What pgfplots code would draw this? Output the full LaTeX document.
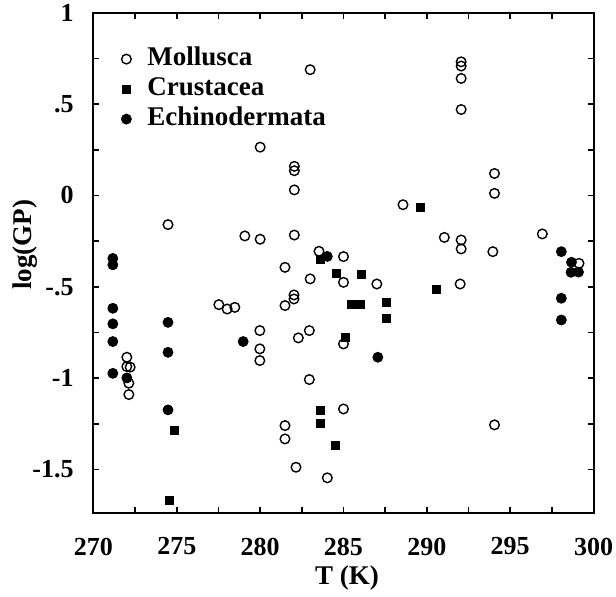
\documentclass[border=0pt]{standalone}
\usepackage{fontspec}
\setmainfont{Liberation Serif}
\usepackage{pgfplots}
\pgfplotsset{compat=1.18}
\begin{document}
\begin{tikzpicture}
\useasboundingbox (-46.75pt,-41.85pt) rectangle (261.25pt,256.65pt);
\begin{axis}[
  at={(0,0)}, anchor=south west,
  scale only axis, width=250pt, height=250.3pt,
  xmin=270, xmax=300, ymin=-1.74, ymax=1.0,
  axis line style={line width=1pt},
  tick style={line width=0.8pt, black},
  major tick length=3pt, minor tick length=3pt,
  tick align=inside,
  xtick={270,275,...,300}, minor xtick={272.5,277.5,...,297.5},
  ytick={-1.5,-1,-0.5,0,0.5,1}, yticklabels={-1.5,-1,-.5,0,.5,1},
  minor ytick={-1.25,-0.75,-0.25,0.25,0.75},
  xticklabel style={yshift=-8.7pt},
  yticklabel style={xshift=-6.4pt},
  tick label style={font=\fontsize{13}{13}\selectfont\bfseries},
  /pgf/number format/assume math mode=true,
  /pgf/number format/1000 sep={},
  xlabel={T (K)}, ylabel={log(GP)},
  label style={font=\fontsize{13.5}{13.5}\selectfont\bfseries},
  xlabel style={at={(axis description cs:0.507,-0.129)}, anchor=center},
  ylabel style={at={(axis description cs:-0.137,0.536)}, anchor=center},
  legend style={draw=none, fill=none, at={(axis description cs:0.043,0.945)}, anchor=north west,
    font=\fontsize{13.5}{13.5}\selectfont\bfseries, row sep=0.5pt, column sep=6.5pt,
    nodes={text height=9pt, text depth=2.5pt, inner sep=1.5pt}},
  legend cell align=left,
]
\addplot[only marks, mark=o, mark size=2.4pt, mark options={line width=0.7pt, black}] coordinates {
(283.0,0.688) (280.0,0.264) (282.05,0.159) (282.05,0.135) (282.05,0.03)
(274.47,-0.16) (279.08,-0.222) (280.0,-0.24) (282.05,-0.217) (283.53,-0.306)
(285.0,-0.335) (292.06,0.731) (292.06,0.708) (292.06,0.64) (292.06,0.47)
(294.06,0.12) (294.06,0.011) (288.57,-0.051) (291.05,-0.23) (292.06,-0.244)
(292.06,-0.293) (293.96,-0.308) (296.93,-0.211) (272.0,-0.886) (272.0,-0.937)
(272.2,-0.94) (272.12,-1.028) (272.12,-1.09) (277.52,-0.598) (278.02,-0.622)
(278.48,-0.613) (279.98,-0.74) (279.98,-0.84) (279.98,-0.904) (281.49,-0.394)
(281.49,-0.603) (282.03,-0.545) (282.03,-0.567) (282.29,-0.78) (283.0,-0.457)
(282.95,-0.74) (282.95,-1.008) (281.49,-1.26) (281.49,-1.333) (282.15,-1.488)
(284.03,-1.546) (285.0,-1.169) (285.0,-0.813) (285.0,-0.476) (287.0,-0.485)
(292.0,-0.485) (294.06,-1.256) (299.13,-0.372)
};
\addlegendentry{Mollusca}
\addplot[only marks, mark=square*, mark size=2pt, mark options={black}] coordinates {
(289.6,-0.066) (274.87,-1.287) (274.57,-1.67) (283.59,-1.178) (283.59,-1.247)
(284.54,-1.369) (283.63,-0.348) (284.55,-0.427) (286.06,-0.434) (285.5,-0.598)
(286.0,-0.598) (287.6,-0.585) (287.6,-0.673) (285.1,-0.78) (290.6,-0.516)
};
\addlegendentry{Crustacea}
\addplot[only marks, mark=*, mark size=2.5pt, mark options={black}] coordinates {
(271.16,-0.345) (271.16,-0.38) (271.16,-0.618) (271.16,-0.703) (271.16,-0.80)
(271.16,-0.974) (272.0,-0.999) (274.47,-0.695) (274.47,-0.859) (274.47,-1.174)
(278.98,-0.80) (284.03,-0.334) (287.06,-0.886) (298.07,-0.308) (298.68,-0.366)
(298.65,-0.421) (299.1,-0.42) (298.07,-0.563) (298.07,-0.682)
};
\addlegendentry{Echinodermata}
\end{axis}
\end{tikzpicture}
\end{document}
